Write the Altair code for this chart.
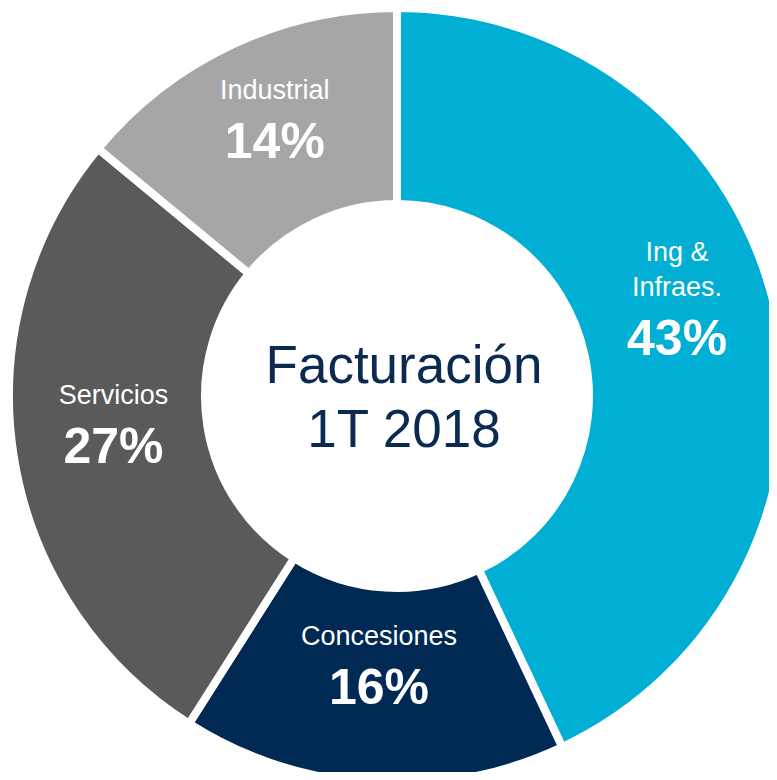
import altair as alt
import pandas as pd

categorias = ["Ing & Infraes.", "Concesiones", "Servicios", "Industrial"]
nombre_linea1 = ["Ing &", "", "", ""]
nombre_linea2 = ["Infraes.", "Concesiones", "Servicios", "Industrial"]
porcentajes = [43, 16, 27, 14]
colores = ["#00AFD3", "#002A54", "#5A5A5A", "#A6A6A6"]
titulo_centro = ["Facturación", "1T 2018"]

df = pd.DataFrame({
    "categoria": categorias,
    "linea1": nombre_linea1,
    "linea2": nombre_linea2,
    "valor": porcentajes,
    "orden": list(range(len(categorias))),
})
df["etiqueta"] = [f"{v}%" for v in porcentajes]
df_centro = pd.DataFrame({"texto": ["\n".join(titulo_centro)]})

CX, CY = 389, 388
FONT = "Liberation Sans"

base = alt.Chart(df).encode(
    theta=alt.Theta("valor:Q", stack=True),
    order=alt.Order("orden:Q"),
)

arcs = base.mark_arc(
    outerRadius=388, innerRadius=192, stroke="white", strokeWidth=8
).encode(
    color=alt.Color(
        "categoria:N",
        scale=alt.Scale(domain=categorias, range=colores),
        legend=None,
    ),
    x=alt.value(CX),
    y=alt.value(CY),
)

pct = base.mark_text(
    radius=287, font=FONT, fontSize=50, fontWeight="bold", color="white",
    baseline="middle", align="center", dy=7,
).encode(text="etiqueta:N", x=alt.value(CX), y=alt.value(CY))

names2 = base.mark_text(
    radius=287, font=FONT, fontSize=27, color="white",
    baseline="bottom", align="center", dy=-31,
).encode(text="linea2:N", x=alt.value(CX), y=alt.value(CY))

names1 = base.mark_text(
    radius=287, font=FONT, fontSize=27, color="white",
    baseline="bottom", align="center", dy=-66,
).encode(text="linea1:N", x=alt.value(CX), y=alt.value(CY))

centro = alt.Chart(df_centro).mark_text(
    font=FONT, fontSize=53, color="#0B2A52", baseline="middle", align="center",
    lineBreak="\n", lineHeight=64,
).encode(text="texto:N", x=alt.value(CX + 7), y=alt.value(CY - 29))

chart = alt.layer(arcs, pct, names2, names1, centro).properties(
    width=761, height=764, padding=0, autosize=alt.AutoSizeParams(type="none")
).configure_view(stroke=None)

chart.save("out.html", embed_options={"renderer": "svg", "actions": False})
